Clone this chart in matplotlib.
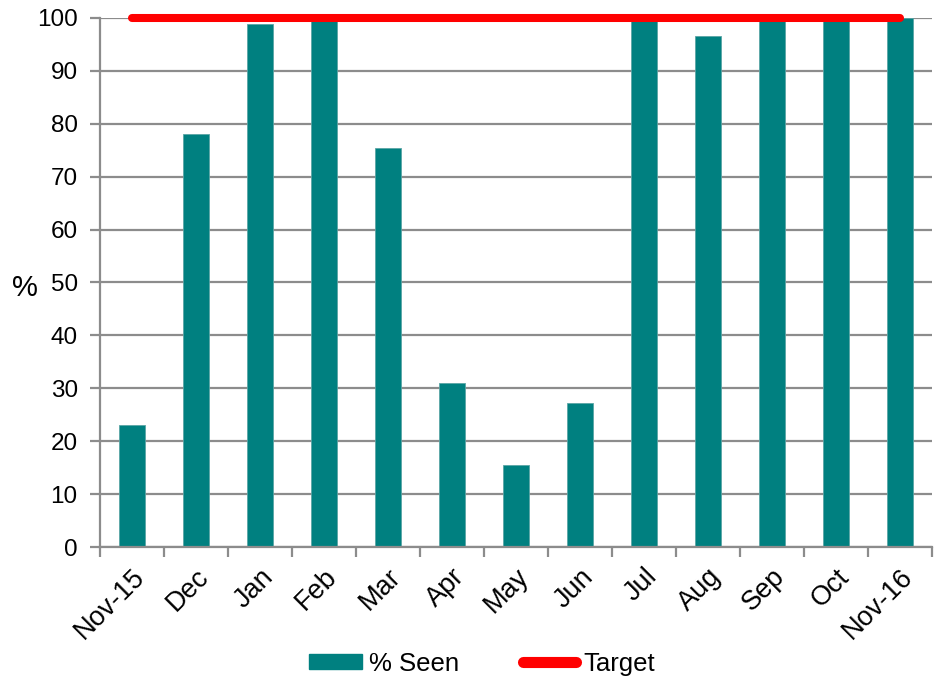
import numpy as np
import matplotlib.pyplot as plt
import matplotlib.transforms as mtransforms
from matplotlib.lines import Line2D
from matplotlib.patches import Patch

plt.rcParams['font.family'] = ['Liberation Sans', 'DejaVu Sans']

months = ['Nov-15', 'Dec', 'Jan', 'Feb', 'Mar', 'Apr', 'May', 'Jun',
          'Jul', 'Aug', 'Sep', 'Oct', 'Nov-16']
seen = [23.1, 78.0, 98.9, 100.0, 75.5, 31.0, 15.5, 27.3,
        100.0, 96.6, 100.0, 100.0, 100.0]
target = [100] * len(months)

teal = '#008080'
grey = '#8c8c8c'

fig = plt.figure(figsize=(9.36, 6.78), dpi=100)
ax = fig.add_axes([0.1068, 0.1932, 0.8889, 0.7803])

x = np.arange(len(months))
ax.bar(x, seen, width=0.41, color=teal, edgecolor='#5aa5a5', linewidth=0.6, zorder=2)
ax.plot(x, target, color='#ff0000', linewidth=5.8, solid_capstyle='round',
        clip_on=False, zorder=3)

ax.set_xlim(-0.5, len(months) - 0.5)
ax.set_ylim(0, 100)
ax.set_yticks(range(0, 101, 10))
ax.yaxis.grid(True, color=grey, linewidth=1.6, zorder=0)
ax.set_axisbelow(True)

for s in ['top', 'right']:
    ax.spines[s].set_visible(False)
for s in ['left', 'bottom']:
    ax.spines[s].set_color(grey)
    ax.spines[s].set_linewidth(1.6)

# ticks sit between categories, labels under each bar
ax.set_xticks(np.arange(-0.5, len(months), 1.0))
ax.set_xticklabels([])
ax.set_xticks(x, minor=True)
ax.set_xticklabels(months, minor=True, rotation=45, ha='right', va='top',
                   rotation_mode='anchor', fontsize=19.5)
shift = mtransforms.ScaledTranslation(-9 / 72, 0, fig.dpi_scale_trans)
for lbl in ax.get_xticklabels(minor=True):
    lbl.set_transform(lbl.get_transform() + shift)
ax.tick_params(axis='x', which='major', direction='out', length=7,
               width=1.6, color=grey)
ax.tick_params(axis='x', which='minor', length=0, pad=12)
ax.tick_params(axis='y', direction='out', length=7, width=1.6, color=grey,
               labelsize=17.5, pad=9)

ax.set_ylabel('%', rotation=0, fontsize=21, ha='center', va='center')
ax.yaxis.set_label_coords(-0.09, 0.49)

handles = [Patch(color=teal, label='% Seen'),
           Line2D([0], [0], color='#ff0000', linewidth=8,
                  solid_capstyle='round', label='Target')]
fig.legend(handles=handles, loc='center', ncol=2, frameon=False,
           fontsize=18.5, bbox_to_anchor=(0.515, 0.021), handlelength=2.05,
           handleheight=0.55, handletextpad=0.28, columnspacing=2.5)

fig.savefig('out.png', dpi=100)
